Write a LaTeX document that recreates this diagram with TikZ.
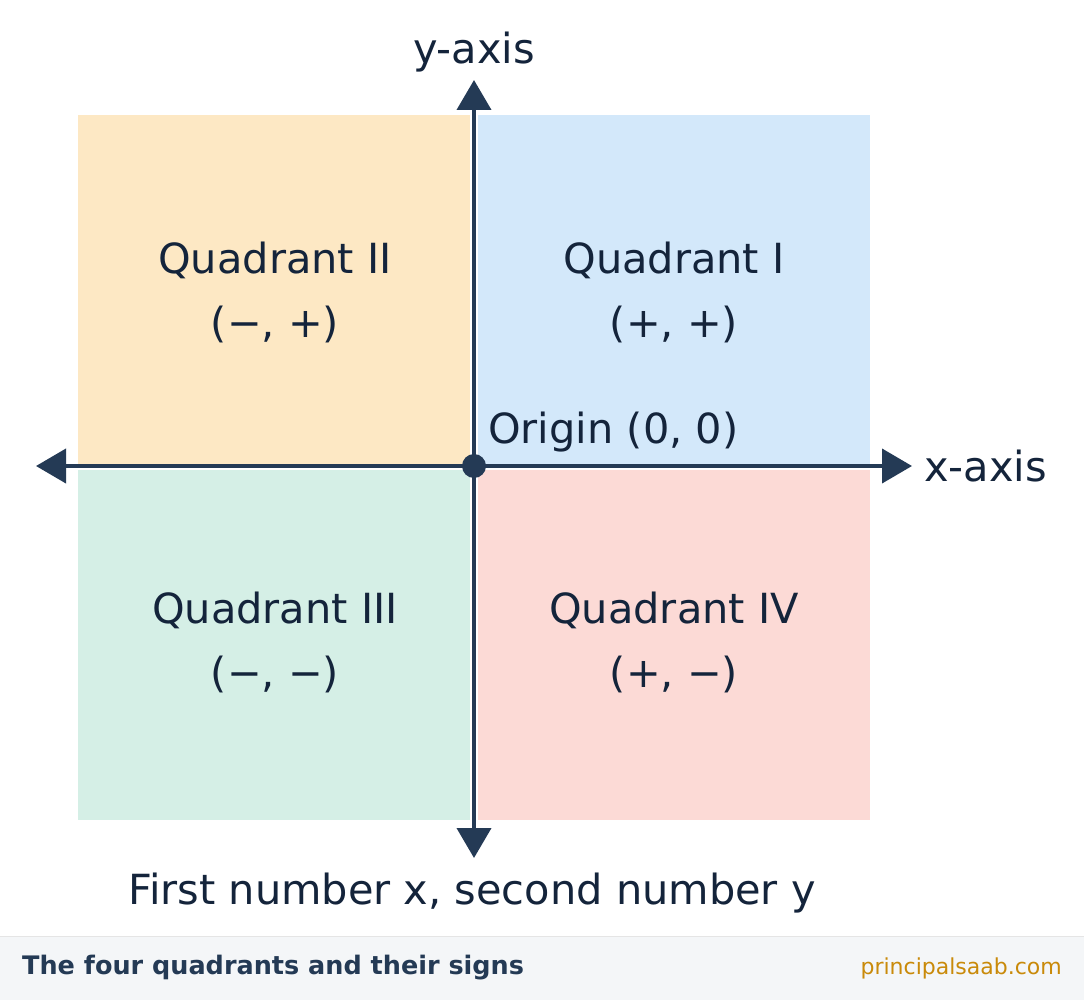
\documentclass[tikz,border=0pt]{standalone}
\usepackage{fontspec}
\setmainfont{DejaVu Sans}
\usetikzlibrary{arrows.meta}
\definecolor{axis}{HTML}{243A55}
\definecolor{txt}{HTML}{14243B}
\definecolor{qone}{HTML}{D3E8FA}
\definecolor{qtwo}{HTML}{FDE8C4}
\definecolor{qthree}{HTML}{D5EFE6}
\definecolor{qfour}{HTML}{FCDAD6}
\definecolor{foot}{HTML}{F4F6F8}
\definecolor{brand}{HTML}{C98A0A}
\begin{document}
\begin{tikzpicture}[x=1pt,y=-1pt,
  big/.style={text=txt,font=\fontsize{41.5}{48}\selectfont,align=center,inner sep=0},
  ax/.style={draw=axis,line width=4pt,-{Triangle[length=30pt,width=34pt]}}]
\useasboundingbox (0,0) rectangle (1084,1000);
\fill[white] (0,0) rectangle (1084,1000);
\fill[qtwo] (78,115) rectangle (470,466);
\fill[qone] (478,115) rectangle (870,466);
\fill[qthree] (78,470) rectangle (470,820);
\fill[qfour] (478,470) rectangle (870,820);
\coordinate (O) at (474,466);
\coordinate (top) at (474,80);
\coordinate (bot) at (474,858);
\coordinate (lft) at (36,466);
\coordinate (rgt) at (912,466);
\draw[ax] (O) -- (top);
\draw[ax] (O) -- (bot);
\draw[ax] (O) -- (lft);
\draw[ax] (O) -- (rgt);
\fill[axis] (O) circle (12);
\node[big] (ya) at (474,52) {y-axis};
\node[big,anchor=west] (xa) at (924,466) {x-axis};
\node[big,anchor=west] (or) at (488,432) {Origin (0, 0)};
\node[big] (q2) at (275,292) {Quadrant II\\[16pt](−, +)};
\node[big] (q1) at (674,292) {Quadrant I\\[16pt](+, +)};
\node[big] (q3) at (275,642) {Quadrant III\\[16pt](−, −)};
\node[big] (q4) at (674,642) {Quadrant IV\\[16pt](+, −)};
\node[big] (cap) at (472,893) {First number x, second number y};
\fill[foot] (0,936) rectangle (1084,1000);
\draw[draw=black!10,line width=1pt] (0,936) -- (1084,936);
\node[anchor=west,text=axis,font=\bfseries\fontsize{25.5}{30}\selectfont,inner sep=0] (ft) at (22,968) {The four quadrants and their signs};
\node[anchor=east,text=brand,font=\fontsize{22}{26}\selectfont,inner sep=0] (br) at (1062,968) {principalsaab.com};
\end{tikzpicture}
\end{document}
